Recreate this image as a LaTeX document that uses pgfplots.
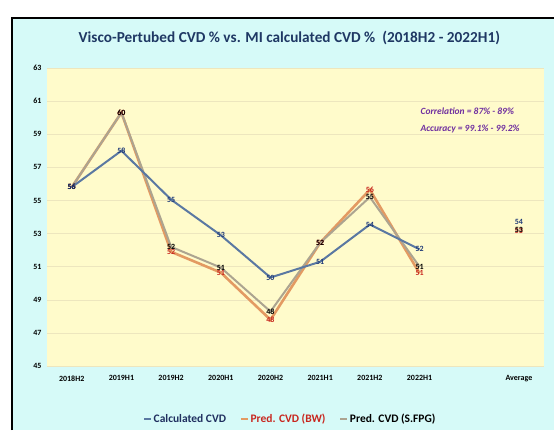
\documentclass[border=0pt]{standalone}
\usepackage{pgfplots}
\pgfplotsset{compat=1.18}
\usepackage{fontspec}
\setmainfont{Carlito}
\definecolor{bgcyan}{HTML}{D6FAF8}
\definecolor{plotyellow}{HTML}{FFFBCB}
\definecolor{gridc}{HTML}{EDE6BE}
\definecolor{titleblue}{HTML}{1F3864}
\definecolor{calcblue}{HTML}{5A78A2}
\definecolor{labblue}{HTML}{1F3A78}
\definecolor{bworange}{HTML}{E39A62}
\definecolor{fpggray}{HTML}{ACA490}
\definecolor{labred}{HTML}{C8261E}
\definecolor{notepurple}{HTML}{7030A0}
\definecolor{legblue}{HTML}{1F2F5F}
\begin{document}
\begin{tikzpicture}[x=1pt,y=1pt]
\fill[white] (0pt,0pt) rectangle (555pt,431pt);
\fill[bgcyan] (12pt,0pt) rectangle (555pt,413pt);
\draw[line width=2.5pt] (12pt,0pt) -- (12pt,413pt) -- (555pt,413pt);
\node[font=\bfseries\fontsize{15.3}{17}\selectfont, text=titleblue] at (290pt,393pt) {Visco-Pertubed CVD \% vs. MI calculated CVD \%~~(2018H2 - 2022H1)};
\begin{axis}[
  at={(47pt,64pt)}, anchor=south west,
  width=498pt, height=299pt, scale only axis,
  xmin=-0.5, xmax=9.5, ymin=45, ymax=63,
  ytick={45,47,...,63},
  xtick={0,1,2,3,4,5,6,7,9},
  xticklabels={2018H2,2019H1,2019H2,2020H1,2020H2,2021H1,2021H2,2022H1,Average},
  /pgf/number format/assume math mode=true,
  axis background/.style={fill=plotyellow},
  axis line style={draw=none},
  major tick length=0pt,
  ymajorgrids, grid style={color=gridc, line width=0.7pt},
  ticklabel style={font=\bfseries\fontsize{8}{9}\selectfont},
  yticklabel style={xshift=-2pt},
  xticklabel style={yshift=-6pt},
  clip=false,
  point meta=y,
  nodes near coords={\pgfmathprintnumber[fixed,precision=0,assume math mode=true]{\pgfplotspointmeta}},
  every node near coord/.append style={anchor=center, inner sep=0pt, font=\bfseries\fontsize{8}{8}\selectfont},
  legend style={at={(0.49,-0.177)}, anchor=center, draw=none, fill=none,
    legend columns=3, font=\bfseries\fontsize{11.5}{13}\selectfont,
    /tikz/every even column/.append style={column sep=12pt}},
  legend image code/.code={\draw[#1, line width=1.5pt] (0pt,0pt) -- (7pt,0pt);},
]
\addplot[bworange, line width=2.6pt, no markers, forget plot, nodes near coords style={text=labred}] coordinates {
 (0,55.8) (1,60.3) (2,51.9) (3,50.65) (4,47.8) (5,52.45) (6,55.65) (7,50.6)};
\addplot[fpggray, line width=2pt, no markers, forget plot, nodes near coords style={text=black}] coordinates {
 (0,55.8) (1,60.3) (2,52.2) (3,50.95) (4,48.3) (5,52.45) (6,55.2) (7,51.0)};
\addplot[calcblue, line width=2pt, no markers, forget plot, nodes near coords style={text=labblue}] coordinates {
 (0,55.8) (1,58.0) (2,55.05) (3,52.9) (4,50.35) (5,51.3) (6,53.55) (7,52.05)};
% averages
\addplot[draw=none, no markers, forget plot, nodes near coords style={text=labblue}] coordinates {(9,53.7)};
\addplot[draw=none, no markers, forget plot, nodes near coords style={text=labred}] coordinates {(9,53.15)};
\addplot[draw=none, no markers, forget plot, nodes near coords style={text=black}] coordinates {(9,53.25)};
% legend
\addlegendimage{calcblue}
\addlegendentry{\textcolor{legblue}{Calculated CVD}}
\addlegendimage{bworange}
\addlegendentry{\textcolor{labred}{Pred. CVD (BW)}}
\addlegendimage{fpggray}
\addlegendentry{\textcolor{black}{Pred. CVD (S.FPG)}}
\node[font=\bfseries\itshape\fontsize{9.5}{10}\selectfont, text=notepurple, anchor=west] at (axis cs:6.95,60.4) {Correlation = 87\% - 89\%};
\node[font=\bfseries\itshape\fontsize{9.5}{10}\selectfont, text=notepurple, anchor=west] at (axis cs:6.95,59.3) {Accuracy = 99.1\% - 99.2\%};
\end{axis}
\end{tikzpicture}
\end{document}
